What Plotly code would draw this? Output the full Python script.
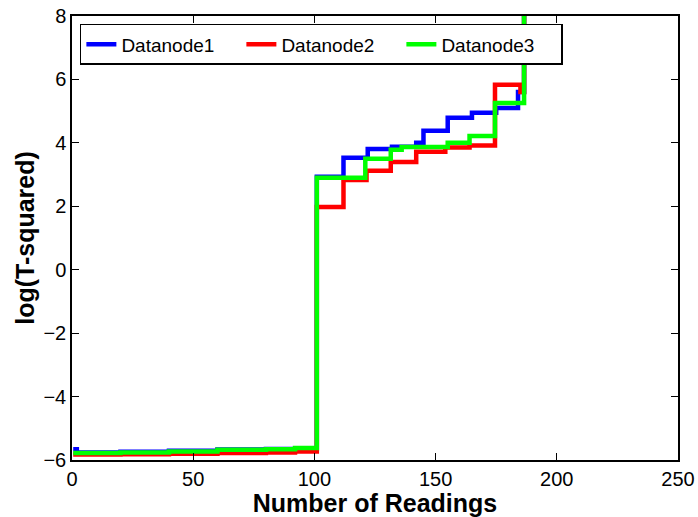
import plotly.graph_objects as go

# Step positions (x) and levels (y) for each datanode
x_dn1 = [0.5, 2, 20, 40, 60, 80, 101, 112, 122, 132, 142, 145, 155, 165, 175, 184, 186.5]
y_dn1 = [-5.66, -5.76, -5.74, -5.71, -5.67, -5.65, 2.93, 3.53, 3.81, 3.88, 4.0, 4.38, 4.79, 4.95, 5.1, 5.6, 9.0]

x_dn2 = [0.5, 20, 40, 60, 80, 92, 101, 112, 121.5, 131.5, 142, 154, 164, 174.5, 185, 186.5]
y_dn2 = [-5.83, -5.82, -5.80, -5.78, -5.76, -5.73, 1.98, 2.83, 3.12, 3.4, 3.72, 3.85, 3.92, 5.83, 5.6, 9.0]

x_dn3 = [0.5, 20, 40, 60, 80, 92, 101, 121, 131.5, 136, 155, 164, 174.5, 186.5]
y_dn3 = [-5.78, -5.76, -5.73, -5.68, -5.66, -5.62, 2.9, 3.5, 3.78, 3.87, 4.0, 4.22, 5.26, 9.0]

series_names = ["Datanode1", "Datanode2", "Datanode3"]
series_colors = ["#0000ff", "#ff0000", "#00ff00"]

x_ticks = [0, 50, 100, 150, 200, 250]
y_ticks = [-6, -4, -2, 0, 2, 4, 6, 8]

fig = go.Figure()
for xs, ys, name, color in zip([x_dn1, x_dn2, x_dn3], [y_dn1, y_dn2, y_dn3], series_names, series_colors):
    fig.add_trace(go.Scatter(x=xs, y=ys, mode="lines", name=name,
                             line=dict(color=color, width=4.5, shape="hv")))

axis_common = dict(showgrid=False, zeroline=False, showline=True, linecolor="black",
                   linewidth=1.5, mirror="ticks", ticks="inside", ticklen=7,
                   tickcolor="black", tickwidth=1, automargin=False,
                   tickfont=dict(family="Liberation Sans, Arial", size=20, color="black"))

fig.update_layout(
    width=698, height=517,
    margin=dict(l=72, r=20, t=16, b=57),
    paper_bgcolor="white", plot_bgcolor="white",
    font=dict(family="Liberation Sans, Arial", color="black"),
    showlegend=True,
    legend=dict(orientation="h", x=0.013, y=0.982, xanchor="left", yanchor="top",
                bgcolor="white", bordercolor="black", borderwidth=1.5,
                font=dict(size=19, color="black"),
                entrywidth=115, entrywidthmode="pixels"),
    xaxis=dict(range=[0, 250], tickvals=x_ticks,
               title=dict(text="<b>Number of Readings</b>", font=dict(size=25), standoff=3),
               **axis_common),
    yaxis=dict(range=[-6, 8], tickvals=y_ticks,
               title=dict(text="<b>log(T-squared)</b>", font=dict(size=25), standoff=2),
               **axis_common),
)

fig.write_html("out.html", config={"displayModeBar": False},
               post_script="document.body.style.margin='0';")
